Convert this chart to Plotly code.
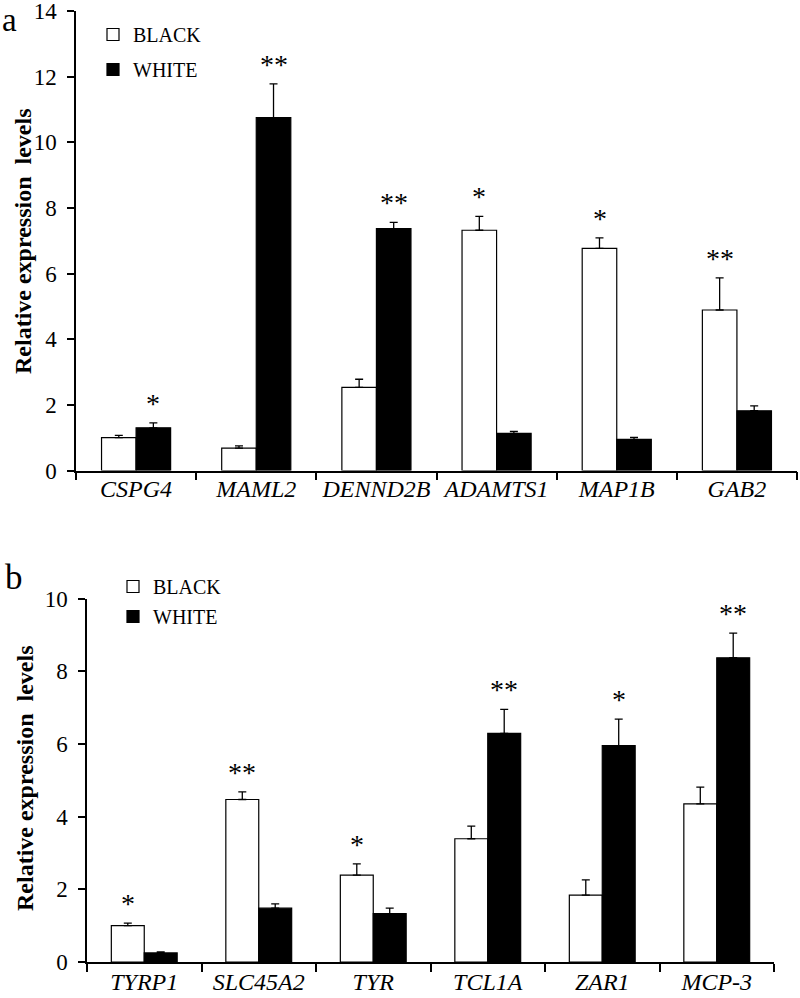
import plotly.graph_objects as go

# Panel a
genes_a = ["CSPG4", "MAML2", "DENND2B", "ADAMTS1", "MAP1B", "GAB2"]
black_a = [1.0, 0.68, 2.53, 7.32, 6.77, 4.89]
black_a_err = [0.07, 0.07, 0.25, 0.42, 0.32, 0.98]
white_a = [1.3, 10.75, 7.37, 1.13, 0.95, 1.82]
white_a_err = [0.15, 1.03, 0.19, 0.06, 0.06, 0.15]
sig_a = ["*", "**", "**", "*", "*", "**"]
sig_a_on = ["WHITE", "WHITE", "WHITE", "BLACK", "BLACK", "BLACK"]

# Panel b
genes_b = ["TYRP1", "SLC45A2", "TYR", "TCL1A", "ZAR1", "MCP-3"]
black_b = [1.0, 4.47, 2.39, 3.39, 1.84, 4.35]
black_b_err = [0.07, 0.21, 0.31, 0.35, 0.42, 0.46]
white_b = [0.25, 1.48, 1.33, 6.29, 5.95, 8.37]
white_b_err = [0.03, 0.12, 0.15, 0.66, 0.73, 0.68]
sig_b = ["*", "**", "*", "**", "*", "**"]
sig_b_on = ["BLACK", "BLACK", "BLACK", "WHITE", "WHITE", "WHITE"]

yticks_a = [0, 2, 4, 6, 8, 10, 12, 14]
yticks_b = [0, 2, 4, 6, 8, 10]

FONT = "Liberation Serif, Times New Roman, serif"

fig = go.Figure()


def add_panel(genes, bv, be, wv, we, xa, ya, leg):
    fig.add_trace(go.Bar(
        x=genes, y=bv, name="BLACK", xaxis=xa, yaxis=ya, legend=leg,
        legendgroup=leg + "b",
        marker=dict(color="white", line=dict(color="black", width=1.2)),
        error_y=dict(type="data", array=be, arrayminus=[0] * len(be), symmetric=False,
                     color="black", thickness=1.3, width=4),
    ))
    fig.add_trace(go.Bar(
        x=genes, y=wv, name="WHITE", xaxis=xa, yaxis=ya, legend=leg,
        legendgroup=leg + "w",
        marker=dict(color="black", line=dict(color="black", width=1.2)),
        error_y=dict(type="data", array=we, arrayminus=[0] * len(we), symmetric=False,
                     color="black", thickness=1.3, width=4),
    ))


add_panel(genes_a, black_a, black_a_err, white_a, white_a_err, "x", "y", "legend")
add_panel(genes_b, black_b, black_b_err, white_b, white_b_err, "x2", "y2", "legend2")

annotations = []


def add_stars(genes, bv, be, wv, we, sig, on, xref, yref, shift):
    for g, b, bee, w, wee, s, o in zip(genes, bv, be, wv, we, sig, on):
        if o == "BLACK":
            top, xs = b + bee, -shift
        else:
            top, xs = w + wee, shift
        annotations.append(dict(
            x=g, y=top, xref=xref, yref=yref, text=s, showarrow=False,
            xshift=xs, yshift=2, yanchor="bottom",
            font=dict(family=FONT, size=28, color="#000000"),
        ))


add_stars(genes_a, black_a, black_a_err, white_a, white_a_err, sig_a, sig_a_on, "x", "y", 17.25)
add_stars(genes_b, black_b, black_b_err, white_b, white_b_err, sig_b, sig_b_on, "x2", "y2", 16.5)

H = 998.0
W = 800.0

annotations += [
    dict(text="a", x=0 / W, y=1.0, xref="paper", yref="paper", xanchor="left",
         yanchor="top", showarrow=False, font=dict(family=FONT, size=33, color="black")),
    dict(text="b", x=3 / W, y=1 - 556 / H, xref="paper", yref="paper", xanchor="left",
         yanchor="top", showarrow=False, font=dict(family=FONT, size=35, color="black")),
    dict(text="<b>Relative expression  levels</b>", x=23 / W, y=1 - 241 / H, xref="paper",
         yref="paper", textangle=-90, xanchor="center", yanchor="middle", showarrow=False,
         font=dict(family=FONT, size=24, color="black")),
    dict(text="<b>Relative expression  levels</b>", x=25 / W, y=1 - 778 / H, xref="paper",
         yref="paper", textangle=-90, xanchor="center", yanchor="middle", showarrow=False,
         font=dict(family=FONT, size=24, color="black")),
]

xcommon = dict(showline=True, linecolor="black", linewidth=1.5, ticks="outside",
               tickson="boundaries", ticklen=8, tickcolor="black", tickwidth=1.5,
               tickangle=0, ticklabeloverflow="allow",
               tickfont=dict(family=FONT, size=24, color="black"), showgrid=False,
               zeroline=False, fixedrange=True, automargin=False)
ycommon = dict(showline=True, linecolor="black", linewidth=1.5, ticks="outside",
               ticklen=7, tickcolor="black", tickwidth=1.5, ticklabeloverflow="allow",
               tickfont=dict(family=FONT, size=23, color="black"), showgrid=False,
               zeroline=False, automargin=False, ticklabelstandoff=6, fixedrange=True)

fig.update_layout(
    width=800, height=998,
    margin=dict(l=0, r=0, t=0, b=0, autoexpand=False),
    paper_bgcolor="white", plot_bgcolor="white",
    barmode="group", bargap=0.425, bargroupgap=0,
    xaxis=dict(domain=[76 / W, 797 / W], anchor="y", tickvals=genes_a,
               ticktext=[f"<i>{g}</i>" for g in genes_a], ticklabelstandoff=-4, **xcommon),
    yaxis=dict(domain=[1 - 470.5 / H, 1 - 11 / H], anchor="x", range=[0, 14],
               tickvals=yticks_a, **ycommon),
    xaxis2=dict(domain=[87 / W, 774 / W], anchor="y2", tickvals=genes_b,
                ticktext=[f"<i>{g}</i>" for g in genes_b], ticklabelstandoff=-3, **xcommon),
    yaxis2=dict(domain=[1 - 962 / H, 1 - 598.5 / H], anchor="x2", range=[0, 10],
                tickvals=yticks_b, **ycommon),
    legend=dict(x=93 / W, y=1 - 15 / H, xanchor="left", yanchor="top", bgcolor="rgba(0,0,0,0)",
                font=dict(family=FONT, size=20, color="black"), traceorder="grouped",
                tracegroupgap=6, itemwidth=30),
    legend2=dict(x=113 / W, y=1 - 567 / H, xanchor="left", yanchor="top", bgcolor="rgba(0,0,0,0)",
                 font=dict(family=FONT, size=20, color="black"), traceorder="grouped",
                 tracegroupgap=1, itemwidth=30),
    annotations=annotations,
    showlegend=True,
)

fig.write_html("out.html", config={"displayModeBar": False},
               post_script="document.body.style.margin='0';")
